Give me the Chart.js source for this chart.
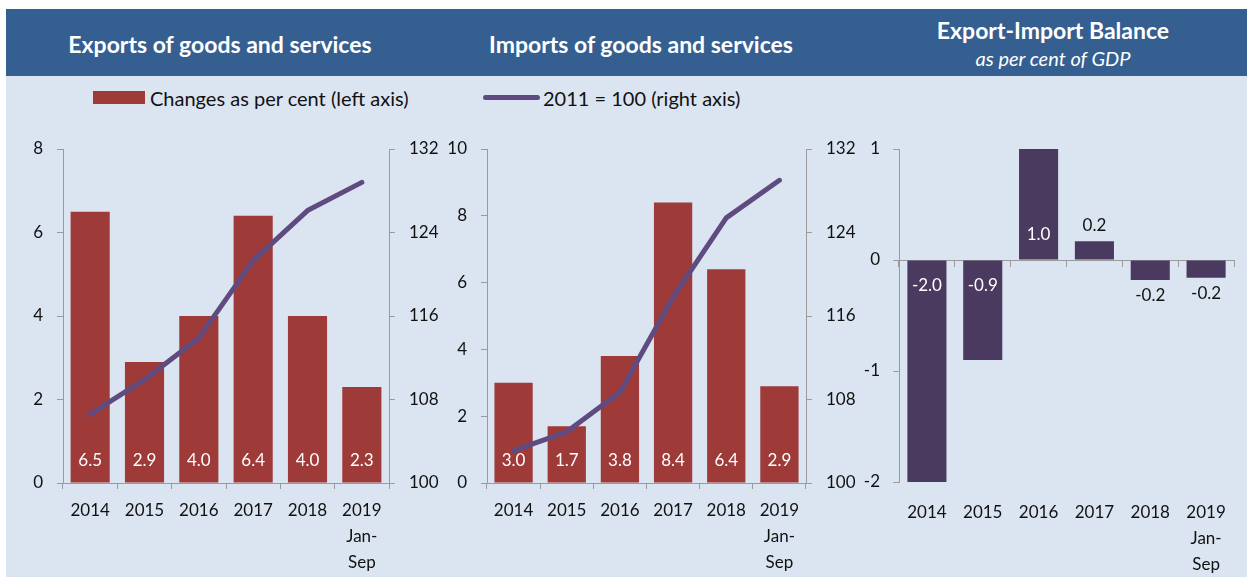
<!DOCTYPE html>
<html>
<head>
<meta charset="utf-8">
<script src="https://cdn.jsdelivr.net/npm/chart.js@4"></script>
<style>
  body { margin:0; width:1247px; height:577px; background:#fff; position:relative; overflow:hidden; font-family: Lato, "Open Sans", sans-serif; }
  #hdr { position:absolute; left:6px; top:9px; width:1241px; height:67px; background:#355F91; }
  #bg { position:absolute; left:6px; top:76px; width:1241px; height:501px; background:#DBE5F1; }
  .t { position:absolute; color:#fff; font-weight:bold; font-size:23px; white-space:nowrap; transform:translate(-50%,-50%); }
  .st { position:absolute; color:#fff; font-style:italic; font-size:20px; white-space:nowrap; transform:translate(-50%,-50%); }
  .lg { position:absolute; font-size:20px; color:#111; white-space:nowrap; transform:translateY(-50%); }
  canvas { position:absolute; }
</style>
</head>
<body>
<div id="hdr"></div>
<div id="bg"></div>
<div class="t" style="left:220px;top:44px;">Exports of goods and services</div>
<div class="t" style="left:641px;top:44px;">Imports of goods and services</div>
<div class="t" style="left:1053px;top:30px;">Export-Import Balance</div>
<div class="st" style="left:1053px;top:58px;">as per cent of GDP</div>
<div style="position:absolute;left:93px;top:91px;width:52px;height:13px;background:#9E3A38;"></div>
<div class="lg" style="left:150px;top:98px;">Changes as per cent (left axis)</div>
<div style="position:absolute;left:483px;top:95px;width:57px;height:5px;border-radius:3px;background:#5F4B80;"></div>
<div class="lg" style="left:543px;top:98px;">2011 = 100 (right axis)</div>

<canvas id="c1" width="430" height="447" style="left:10px;top:130px;width:430px;height:447px;"></canvas>
<canvas id="c2" width="430" height="447" style="left:440px;top:130px;width:430px;height:447px;"></canvas>
<canvas id="c3" width="387" height="447" style="left:860px;top:130px;width:387px;height:447px;"></canvas>

<script>
const categories = ['2014','2015','2016','2017','2018',['2019','Jan-','Sep']];
const exportsChange = [6.5, 2.9, 4.0, 6.4, 4.0, 2.3];
const exportsIndex = [106.6, 109.9, 113.9, 121.3, 126.1, 128.8];
const importsChange = [3.0, 1.7, 3.8, 8.4, 6.4, 2.9];
const importsIndex = [103.1, 104.9, 108.7, 117.8, 125.4, 129.0];
const balance = [-2.0, -0.9, 1.0, 0.17, -0.18, -0.16];
const leftTicksExp = [0, 2, 4, 6, 8];
const leftTicksImp = [0, 2, 4, 6, 8, 10];
const rightTicks = [100, 108, 116, 124, 132];
const balanceTicks = [-2, -1, 0, 1];

Chart.defaults.font.family = 'Lato, "Open Sans", sans-serif';
Chart.defaults.font.size = 17;
Chart.defaults.color = '#111';

const AXIS = '#9a9a9a';
const BAR_RED = '#9E3A38';
const LINE_PURPLE = '#5F4B80';
const BAR_PURPLE = '#4B3A5F';

const labelPlugin = {
  id: 'barLabels',
  afterDatasetDraw(chart, args) {
    const meta = args.meta;
    if (meta.type !== 'bar') return;
    const ctx = chart.ctx;
    const mode = chart.options.plugins.barLabels.mode;
    ctx.save();
    ctx.font = '17px Lato, "Open Sans", sans-serif';
    ctx.textAlign = 'center';
    ctx.textBaseline = 'middle';
    const data = chart.data.datasets[args.index].data;
    meta.data.forEach((el, i) => {
      const v = data[i];
      const txt = v.toFixed(1);
      if (mode === 'base') {
        ctx.fillStyle = '#fff';
        ctx.fillText(txt, el.x, el.base - 22);
      } else {
        const len = el.y - el.base;
        const dir = Math.sign(len) || -1;
        if (Math.abs(len) > 40) {
          ctx.fillStyle = '#fff';
          ctx.fillText(txt, el.x, el.base + dir * 25);
        } else {
          ctx.fillStyle = '#111';
          ctx.fillText(txt, el.x, el.y + dir * 16);
        }
      }
    });
    ctx.restore();
  }
};

const xTickFont = { size: 17, lineHeight: 1.55 };
function fixY(width) {
  return s => { s.width = width; s.paddingTop = 0; s.paddingBottom = 0; };
}

function comboChart(id, barData, lineData, leftMax, leftTicks, leftW, rightW) {
  return new Chart(document.getElementById(id), {
    data: {
      labels: categories,
      datasets: [
        { type: 'line', data: lineData, yAxisID: 'y1', borderColor: LINE_PURPLE, borderWidth: 5,
          borderCapStyle: 'round', borderJoinStyle: 'round', pointRadius: 0, tension: 0, order: 0 },
        { type: 'bar', data: barData, yAxisID: 'y', backgroundColor: BAR_RED,
          categoryPercentage: 1, barPercentage: 0.72, order: 1 }
      ]
    },
    options: {
      responsive: false, animation: false, devicePixelRatio: 1,
      layout: { padding: { top: 19, left: 0, right: 0, bottom: 0 } },
      plugins: { legend: { display: false }, tooltip: { enabled: false }, barLabels: { mode: 'base' } },
      scales: {
        x: {
          grid: { offset: true, drawOnChartArea: false, tickLength: 6, color: AXIS },
          border: { color: AXIS, width: 1 },
          ticks: { padding: 8, maxRotation: 0, autoSkip: false, font: xTickFont },
          afterFit: s => { s.height = 94; }
        },
        y: {
          position: 'left', min: 0, max: leftMax,
          afterBuildTicks: s => { s.ticks = leftTicks.map(v => ({ value: v })); },
          grid: { drawOnChartArea: false, tickLength: 6, color: AXIS },
          border: { color: AXIS, width: 1 },
          ticks: { padding: 14 },
          afterFit: fixY(leftW)
        },
        y1: {
          position: 'right', min: 100, max: 132,
          afterBuildTicks: s => { s.ticks = rightTicks.map(v => ({ value: v })); },
          grid: { drawOnChartArea: false, tickLength: 6, color: AXIS },
          border: { color: AXIS, width: 1 },
          ticks: { padding: 14 },
          afterFit: fixY(rightW)
        }
      }
    },
    plugins: [labelPlugin]
  });
}

comboChart('c1', exportsChange, exportsIndex, 8, leftTicksExp, 53, 51);
comboChart('c2', importsChange, importsIndex, 10, leftTicksImp, 47, 64);

new Chart(document.getElementById('c3'), {
  type: 'bar',
  data: {
    labels: categories,
    datasets: [{ data: balance, backgroundColor: BAR_PURPLE, categoryPercentage: 1, barPercentage: 0.7, xAxisID: 'x', yAxisID: 'y' }]
  },
  options: {
    responsive: false, animation: false, devicePixelRatio: 1,
    layout: { padding: { top: 19, left: 0, right: 13, bottom: 0 } },
    plugins: { legend: { display: false }, tooltip: { enabled: false }, barLabels: { mode: 'auto' } },
    scales: {
      x: {
        position: { y: 0 }, z: 1,
        grid: { offset: true, drawOnChartArea: false, tickLength: 6, color: AXIS },
        border: { color: AXIS, width: 1 },
        ticks: { display: false },
        afterFit: s => { s.height = 0; s.paddingLeft = 0; s.paddingRight = 0; }
      },
      x2: {
        type: 'category', position: 'bottom', labels: categories,
        grid: { display: false, drawTicks: false },
        border: { display: false },
        ticks: { padding: 17, maxRotation: 0, autoSkip: false, font: xTickFont },
        afterFit: s => { s.height = 95; }
      },
      y: {
        position: 'left', min: -2, max: 1,
        afterBuildTicks: s => { s.ticks = balanceTicks.map(v => ({ value: v })); },
        grid: { drawOnChartArea: false, tickLength: 6, color: AXIS },
        border: { color: AXIS, width: 1 },
        ticks: { padding: 13 },
        afterFit: fixY(39)
      }
    }
  },
  plugins: [labelPlugin]
});
</script>
</body>
</html>
